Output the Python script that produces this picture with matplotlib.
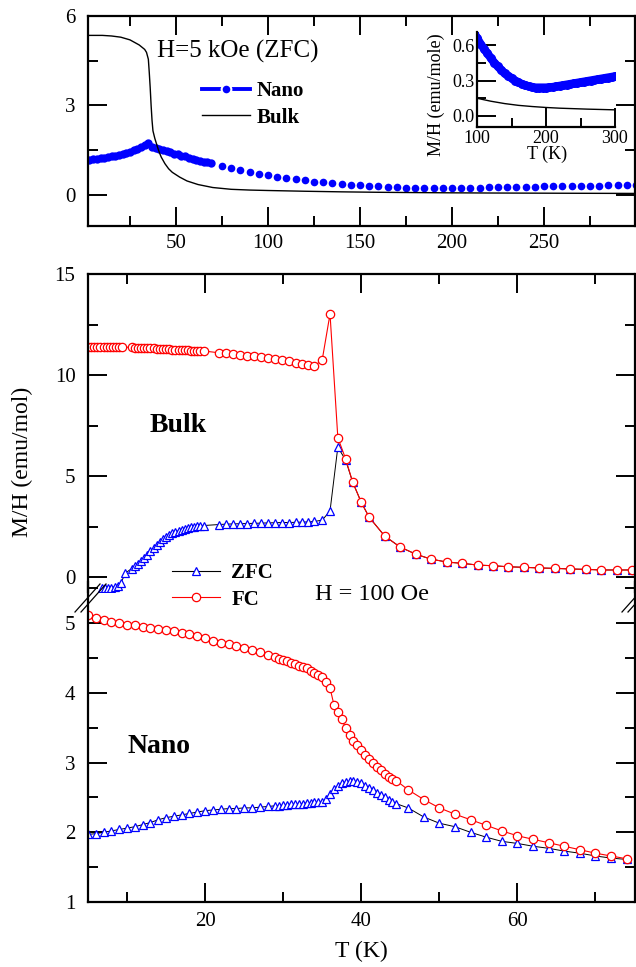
import matplotlib
matplotlib.use('Agg')
import matplotlib.pyplot as plt
from matplotlib.lines import Line2D
from matplotlib.ticker import MultipleLocator

plt.rcParams['font.family'] = ['Liberation Serif', 'DejaVu Serif']

# ---- top panel, H = 5 kOe ZFC ----
top_nano_T_lo = [3, 5, 7, 9, 11, 13, 15, 17, 19, 21, 23, 25, 27, 29, 31, 33, 35,
                 37, 39, 41, 43, 45, 47, 49, 51, 53, 55, 57, 59, 61, 63, 65, 67, 69]
top_nano_lo = [1.17, 1.19, 1.21, 1.23, 1.25, 1.27, 1.30, 1.32, 1.35, 1.38, 1.41, 1.45,
               1.50, 1.55, 1.61, 1.68, 1.75, 1.62, 1.57, 1.54, 1.50, 1.46, 1.43, 1.39,
               1.36, 1.32, 1.29, 1.25, 1.22, 1.18, 1.15, 1.12, 1.09, 1.07]
top_nano_T_hi = [75, 80, 85, 90, 95, 100, 105, 110, 115, 120, 125, 130, 135, 140, 145,
                 150, 155, 160, 165, 170, 175, 180, 185, 190, 195, 200, 205, 210, 215,
                 220, 225, 230, 235, 240, 245, 250, 255, 260, 265, 270, 275, 280, 285,
                 290, 295, 300]
top_nano_hi = [0.97, 0.90, 0.83, 0.77, 0.71, 0.66, 0.61, 0.57, 0.53, 0.49, 0.45, 0.42,
               0.39, 0.36, 0.34, 0.32, 0.30, 0.285, 0.27, 0.26, 0.25, 0.245, 0.24, 0.24,
               0.24, 0.24, 0.242, 0.245, 0.25, 0.255, 0.26, 0.265, 0.27, 0.275, 0.28,
               0.285, 0.29, 0.295, 0.30, 0.305, 0.31, 0.315, 0.32, 0.325, 0.33, 0.335]
top_bulk_T = [3, 10, 15, 20, 25, 30, 33, 34, 35, 35.5, 36, 36.5, 37, 37.5, 38.5, 40, 41,
              42, 44, 46, 48, 52, 56, 62, 70, 80, 90, 100, 120, 140, 160, 180, 200, 220,
              240, 260, 280, 300]
top_bulk = [5.35, 5.35, 5.33, 5.29, 5.20, 5.03, 4.88, 4.78, 4.55, 4.10, 3.60, 3.00, 2.50,
            2.15, 1.90, 1.60, 1.42, 1.27, 1.05, 0.88, 0.76, 0.60, 0.47, 0.35, 0.25, 0.19,
            0.165, 0.15, 0.125, 0.105, 0.09, 0.08, 0.072, 0.066, 0.062, 0.058, 0.055, 0.052]

# ---- lower panel, H = 100 Oe, bulk ----
bulk_fc_T = [5.0, 5.4, 5.8, 6.2, 6.6, 7.0, 7.4, 7.8, 8.2, 8.6, 9.0, 9.4,
             10.6, 11.0, 11.4, 11.8, 12.2, 12.6, 13.0, 13.4, 13.8, 14.2, 14.6, 15.0,
             15.4, 15.8, 16.2, 16.6, 17.0, 17.4, 17.8, 18.2, 18.6, 19.0, 19.4, 19.8,
             21.8, 22.7, 23.6, 24.5, 25.4, 26.3, 27.2, 28.1, 29.0, 29.9, 30.8, 31.6,
             32.4, 33.2, 34.0, 35.0, 36.0, 37.0, 38.0, 38.9, 40.0, 41.0, 43.0, 45.0,
             47.0, 48.9, 51.0, 52.9, 55.0, 56.9, 58.8, 60.9, 62.8, 64.8, 66.7, 68.8,
             70.7, 72.7, 74.7]
bulk_fc = [11.38, 11.38, 11.38, 11.38, 11.38, 11.38, 11.38, 11.38, 11.38, 11.38, 11.38, 11.38,
           11.37, 11.36, 11.36, 11.35, 11.34, 11.34, 11.33, 11.32, 11.31, 11.30, 11.29, 11.28,
           11.27, 11.26, 11.25, 11.25, 11.24, 11.23, 11.22, 11.21, 11.21, 11.20, 11.19, 11.19,
           11.10, 11.07, 11.03, 11.00, 10.96, 10.92, 10.88, 10.83, 10.78, 10.73, 10.67, 10.60,
           10.53, 10.48, 10.45, 10.75, 13.02, 6.90, 5.85, 4.70, 3.70, 2.97, 2.03, 1.48,
           1.13, 0.89, 0.74, 0.68, 0.59, 0.56, 0.51, 0.48, 0.45, 0.43, 0.40, 0.38,
           0.35, 0.35, 0.35]
bulk_zfc_T = [6.8, 7.2, 7.6, 8.0, 8.4, 8.8, 9.2, 9.8,
              10.6, 11.0, 11.4, 11.8, 12.2, 12.6, 13.0, 13.4, 13.8, 14.2, 14.6, 15.0,
              15.4, 15.8, 16.2, 16.6, 17.0, 17.4, 17.8, 18.2, 18.6, 19.0, 19.4, 19.8,
              21.8, 22.7, 23.6, 24.5, 25.4, 26.3, 27.2, 28.1, 29.0, 29.9, 30.8, 31.6,
              32.4, 33.2, 34.0, 35.0, 36.0, 37.0, 38.0, 38.9, 40.0, 41.0, 43.0, 45.0,
              47.0, 48.9, 51.0, 52.9, 55.0, 56.9, 58.8, 60.9, 62.8, 64.8, 66.7, 68.8,
              70.7, 72.7, 74.7]
bulk_zfc = [-0.55, -0.55, -0.54, -0.52, -0.48, -0.42, -0.30, 0.20,
            0.42, 0.55, 0.66, 0.78, 0.93, 1.09, 1.27, 1.44, 1.59, 1.73, 1.86, 1.97,
            2.06, 2.16, 2.23, 2.29, 2.35, 2.40, 2.44, 2.47, 2.50, 2.52, 2.54, 2.55,
            2.60, 2.62, 2.63, 2.64, 2.65, 2.66, 2.67, 2.68, 2.69, 2.70, 2.70, 2.71,
            2.72, 2.73, 2.75, 2.82, 3.27, 6.43, 5.79, 4.70, 3.70, 2.97, 2.03, 1.48,
            1.13, 0.89, 0.74, 0.68, 0.59, 0.56, 0.51, 0.48, 0.45, 0.43, 0.40, 0.38,
            0.35, 0.35, 0.35]

# ---- lower panel, nano ----
nano_T = [5, 6, 7, 8, 9, 10, 11, 12, 13, 14, 15, 16, 17, 18, 19, 20, 21, 22, 23, 24,
          25, 26, 27, 28, 29,
          29.5, 30, 30.5, 31, 31.5, 32, 32.5, 33, 33.5, 34, 34.5, 35, 35.5, 36, 36.5,
          37, 37.5, 38, 38.5, 39, 39.5, 40, 40.5, 41, 41.5, 42, 42.5, 43, 43.5, 44, 44.5,
          46, 48, 50, 52, 54, 56, 58, 60, 62, 64, 66, 68, 70, 72, 74]
nano_fc = [5.12, 5.07, 5.04, 5.02, 5.00, 4.98, 4.97, 4.95, 4.93, 4.91, 4.90, 4.88, 4.86,
           4.84, 4.81, 4.78, 4.75, 4.72, 4.70, 4.67, 4.64, 4.61, 4.58, 4.55, 4.51,
           4.49, 4.47, 4.45, 4.43, 4.41, 4.39, 4.37, 4.35, 4.32, 4.29, 4.26, 4.23, 4.16,
           4.07, 3.83, 3.72, 3.62, 3.50, 3.40, 3.31, 3.25, 3.18, 3.11, 3.05, 2.99, 2.94,
           2.89, 2.84, 2.80, 2.77, 2.74,
           2.61, 2.47, 2.35, 2.26, 2.18, 2.10, 2.02, 1.95, 1.90, 1.85, 1.80, 1.75, 1.70,
           1.66, 1.62]
nano_zfc = [1.97, 1.98, 2.00, 2.02, 2.04, 2.06, 2.08, 2.11, 2.14, 2.18, 2.21, 2.23, 2.25,
            2.27, 2.29, 2.31, 2.32, 2.33, 2.34, 2.34, 2.35, 2.35, 2.36, 2.37, 2.38,
            2.38, 2.39, 2.39, 2.40, 2.40, 2.41, 2.41, 2.42, 2.42, 2.43, 2.43, 2.44, 2.48,
            2.55, 2.62, 2.67, 2.70, 2.72, 2.73, 2.73, 2.72, 2.70, 2.67, 2.64, 2.61, 2.57,
            2.54, 2.50, 2.47, 2.44, 2.41,
            2.35, 2.22, 2.13, 2.08, 2.00, 1.93, 1.87, 1.84, 1.80, 1.77, 1.73, 1.70, 1.66,
            1.63, 1.61]

W, H = 636, 967


def box(x0, y0, x1, y1):
    return [x0 / W, 1 - y1 / H, (x1 - x0) / W, (y1 - y0) / H]


def style(ax, size=15, major=14, minor=7):
    ax.tick_params(which='both', direction='in', top=True, right=True, width=1.4,
                   labelsize=size)
    ax.tick_params(which='major', length=major)
    ax.tick_params(which='minor', length=minor)
    for s in ax.spines.values():
        s.set_linewidth(1.6)


fig = plt.figure(figsize=(6.36, 9.67), dpi=100)

ax_top = fig.add_axes(box(88, 16, 634.5, 226))
ax_in = fig.add_axes(box(477, 32, 615, 127))
ax_bulk = fig.add_axes(box(88, 274, 634.5, 592))
ax_nano = fig.add_axes(box(88, 582, 634.5, 902))
for ax in (ax_bulk, ax_nano, ax_in):
    ax.patch.set_alpha(0)

# top panel
ms_nano = 5.5
ax_top.plot(top_nano_T_lo, top_nano_lo, 'o', color='blue', ms=6, mew=0)
ax_top.plot(top_nano_T_hi, top_nano_hi, 'o', color='blue', ms=ms_nano, mew=0)
ax_top.plot(top_bulk_T, top_bulk, '-', color='black', lw=1.0)
ax_top.set_xlim(2.2, 299.2)
ax_top.set_ylim(-1.04, 6)
ax_top.xaxis.set_major_locator(MultipleLocator(50))
ax_top.xaxis.set_minor_locator(MultipleLocator(25))
ax_top.yaxis.set_major_locator(MultipleLocator(3))
ax_top.yaxis.set_minor_locator(MultipleLocator(1.5))
style(ax_top)
ax_top.tick_params(axis='x', pad=6)
ax_top.tick_params(axis='y', pad=9)

handles = [Line2D([], [], color='blue', lw=2.8, marker='o', ms=7, mec='white', mew=1.5),
           Line2D([], [], color='black', lw=1.0)]
ax_top.legend(handles, ['Nano', 'Bulk'], prop={'weight': 'bold', 'size': 15},
              frameon=False, loc='center left', bbox_to_anchor=(202 / W, 1 - 104.5 / H),
              bbox_transform=fig.transFigure, handlelength=2.3, handletextpad=0.3,
              labelspacing=0.3, borderpad=0, borderaxespad=0)
fig.text(157 / W, 1 - 58 / H, 'H=5 kOe (ZFC)', fontsize=18, va='baseline')

# inset: same data seen from 100 K, drawn as a thick band
ax_in.plot(top_nano_T_hi, top_nano_hi, '-', color='blue', lw=6, solid_capstyle='round')
ax_in.plot(top_nano_T_hi, top_nano_hi, 'o', color='blue', ms=6.5, mew=0)
ax_in.plot(top_bulk_T, top_bulk, '-', color='black', lw=1.0)
ax_in.set_xlim(100, 300)
ax_in.set_ylim(-0.093, 0.71)
ax_in.xaxis.set_major_locator(MultipleLocator(100))
ax_in.xaxis.set_minor_locator(MultipleLocator(50))
ax_in.yaxis.set_major_locator(MultipleLocator(0.3))
ax_in.yaxis.set_minor_locator(MultipleLocator(0.15))
ax_in.yaxis.set_major_formatter(matplotlib.ticker.FormatStrFormatter('%.1f'))
style(ax_in, size=13, major=14, minor=6.5)
ax_in.tick_params(which='both', top=False, right=False, pad=2)
ax_in.spines['top'].set_visible(False)
ax_in.spines['right'].set_visible(False)
fig.text(547 / W, 1 - 154 / H, 'T (K)', fontsize=13, ha='center', va='center')
fig.text(436 / W, 1 - 95 / H, 'M/H (emu/mole)', fontsize=13, rotation=90,
         ha='center', va='center')

# lower panel: bulk part
line_kw = dict(ms=6, mfc='white', mew=0.9)
ax_bulk.plot(bulk_zfc_T, bulk_zfc, '-', color='black', lw=0.7, marker='^', mec='blue', **line_kw)
ax_bulk.plot(bulk_fc_T, bulk_fc, '-', color='red', lw=0.8, marker='o', mec='red', **line_kw)
ax_bulk.set_xlim(5, 75)
ax_bulk.set_ylim(-0.74, 15)
ax_bulk.xaxis.set_major_locator(MultipleLocator(20))
ax_bulk.xaxis.set_minor_locator(MultipleLocator(10))
ax_bulk.yaxis.set_major_locator(MultipleLocator(5))
ax_bulk.yaxis.set_minor_locator(MultipleLocator(2.5))
style(ax_bulk)
ax_bulk.tick_params(which='both', bottom=False, labelbottom=False)
ax_bulk.tick_params(axis='y', pad=9)
ax_bulk.spines['bottom'].set_visible(False)

# lower panel: nano part
ax_nano.plot(nano_T, nano_zfc, '-', color='black', lw=0.7, marker='^', mec='blue', **line_kw)
ax_nano.plot(nano_T, nano_fc, '-', color='red', lw=0.8, marker='o', mec='red', **line_kw)
ax_nano.set_xlim(5, 75)
ax_nano.set_ylim(1, 5.59)
ax_nano.xaxis.set_major_locator(MultipleLocator(20))
ax_nano.xaxis.set_minor_locator(MultipleLocator(10))
ax_nano.yaxis.set_major_locator(MultipleLocator(1))
ax_nano.yaxis.set_minor_locator(MultipleLocator(0.5))
style(ax_nano)
ax_nano.tick_params(which='both', top=False)
ax_nano.tick_params(axis='x', pad=7)
ax_nano.tick_params(axis='y', pad=9)
ax_nano.spines['top'].set_visible(False)

handles = [Line2D([], [], color='black', lw=0.8, marker='^', mec='blue', **line_kw),
           Line2D([], [], color='red', lw=0.8, marker='o', mec='red', **line_kw)]
ax_nano.legend(handles, ['ZFC', 'FC'], prop={'weight': 'bold', 'size': 15},
               frameon=False, loc='center left', bbox_to_anchor=(172 / W, 1 - 586.5 / H),
               bbox_transform=fig.transFigure, handlelength=2.3, handletextpad=0.55,
               labelspacing=0.3, borderpad=0, borderaxespad=0)

# axis-break marks
for x0 in (75, 81, 622, 628):
    fig.add_artist(Line2D([x0 / W, (x0 + 25) / W], [1 - 612 / H, 1 - 584 / H],
                          color='black', lw=0.9, transform=fig.transFigure))

fig.text(315 / W, 1 - 600 / H, 'H = 100 Oe', fontsize=17.5, va='baseline')
fig.text(150 / W, 1 - 432 / H, 'Bulk', fontsize=20, weight='bold', va='baseline')
fig.text(128 / W, 1 - 753 / H, 'Nano', fontsize=20, weight='bold', va='baseline')
fig.text(22 / W, 1 - 462 / H, 'M/H (emu/mol)', fontsize=17, rotation=90,
         ha='center', va='center')
fig.text(361 / W, 1 - 951 / H, 'T (K)', fontsize=17, ha='center', va='center')

fig.savefig('out.png', dpi=100)
